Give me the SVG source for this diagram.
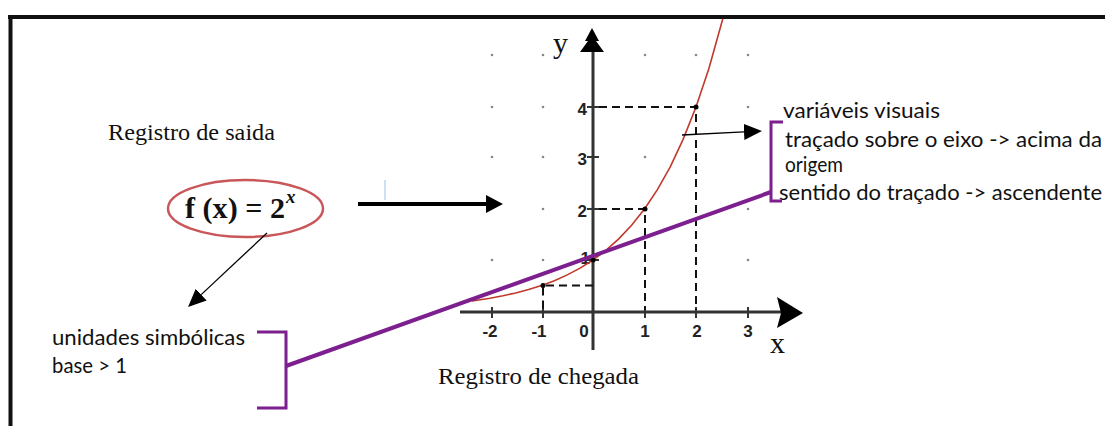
<svg xmlns="http://www.w3.org/2000/svg" width="1105" height="426" viewBox="0 0 1105 426">
<style>
.serif{font-family:"Liberation Serif","Times New Roman",serif;fill:#111}
.sans{font-family:Lato,"Open Sans",sans-serif;fill:#111;font-size:21.5px}
.num{font-family:"Liberation Sans",Arial,sans-serif;font-weight:bold;font-size:17px;fill:#222}
.axis{stroke:#333;stroke-width:3;fill:none}
.tick{stroke:#333;stroke-width:2}
.dash{stroke:#111;stroke-width:2;stroke-dasharray:8 5;fill:none}
.gdot{fill:#888}
.pdot{fill:#000}
.purple{stroke:#7d1f8e;fill:none}
.thin{stroke:#000;stroke-width:1.3;fill:none}
</style>
<defs>
<marker id="ah" markerUnits="userSpaceOnUse" markerWidth="18" markerHeight="16" refX="0" refY="8" orient="auto"><path d="M0,0 L18,8 L0,16 z" fill="#000"/></marker>
<marker id="ahb" markerUnits="userSpaceOnUse" markerWidth="17" markerHeight="18" refX="0" refY="9" orient="auto"><path d="M0,0 L17,9 L0,18 z" fill="#000"/></marker>
</defs>
<rect width="1105" height="426" fill="#fff"/>
<g id="frame">
<line x1="8" y1="17" x2="1105" y2="17" stroke="#111" stroke-width="4"/>
<line x1="10.5" y1="15" x2="10.5" y2="426" stroke="#111" stroke-width="4"/>
</g>
<g id="grid">
<circle class="gdot" cx="492" cy="55" r="1.3"/><circle class="gdot" cx="543" cy="55" r="1.3"/><circle class="gdot" cx="645" cy="55" r="1.3"/><circle class="gdot" cx="696" cy="55" r="1.3"/><circle class="gdot" cx="748" cy="55" r="1.3"/>
<circle class="gdot" cx="492" cy="107" r="1.3"/><circle class="gdot" cx="543" cy="107" r="1.3"/><circle class="gdot" cx="748" cy="107" r="1.3"/>
<circle class="gdot" cx="492" cy="157" r="1.3"/><circle class="gdot" cx="543" cy="157" r="1.3"/><circle class="gdot" cx="645" cy="157" r="1.3"/>
<circle class="gdot" cx="543" cy="209" r="1.3"/><circle class="gdot" cx="748" cy="209" r="1.3"/>
<circle class="gdot" cx="492" cy="260" r="1.3"/><circle class="gdot" cx="543" cy="260" r="1.3"/><circle class="gdot" cx="748" cy="260" r="1.3"/>
</g>
<g id="axes">
<line class="axis" x1="593" y1="50" x2="593" y2="350"/>
<line class="axis" x1="460" y1="312" x2="781" y2="312"/>
<path d="M592,28 L599,41 L596,41 L604,52 L580,52 L588,41 L585,41 Z" fill="#000"/>
<path d="M777,297 L803,313 L777,328 L781,313 Z" fill="#000"/>
<line class="tick" x1="492" y1="307" x2="492" y2="318"/><line class="tick" x1="543" y1="307" x2="543" y2="318"/><line class="tick" x1="645" y1="307" x2="645" y2="318"/><line class="tick" x1="696" y1="307" x2="696" y2="318"/><line class="tick" x1="748" y1="307" x2="748" y2="318"/>
<line class="tick" x1="587" y1="107" x2="599" y2="107"/><line class="tick" x1="587" y1="157" x2="599" y2="157"/><line class="tick" x1="587" y1="209" x2="599" y2="209"/><line class="tick" x1="587" y1="260" x2="599" y2="260"/>
<text class="num" x="587" y="115" text-anchor="end">4</text>
<text class="num" x="587" y="165" text-anchor="end">3</text>
<text class="num" x="587" y="217" text-anchor="end">2</text>
<text class="num" x="590" y="264" text-anchor="end">1</text>
<text class="num" x="490" y="337" text-anchor="middle">-2</text>
<text class="num" x="539" y="337" text-anchor="middle">-1</text>
<text class="num" x="584" y="337" text-anchor="middle">0</text>
<text class="num" x="645" y="337" text-anchor="middle">1</text>
<text class="num" x="697" y="337" text-anchor="middle">2</text>
<text class="num" x="748" y="337" text-anchor="middle">3</text>
<text class="serif" x="553" y="53" font-size="30">y</text>
<text class="serif" x="770" y="353" font-size="30">x</text>
</g>
<g id="dashes">
<path class="dash" d="M599,107 H696 V310"/>
<path class="dash" d="M599,209 H645 V310"/>
<path class="dash" d="M593,285.5 H543 V310"/>
</g>
<g id="curve">
<polyline fill="none" stroke="#c0392b" stroke-width="1.6" points="472,301 477.1,300.3 490,298.25 502.9,295.8 515.75,293 528.6,289.6 541.5,285.5 554.4,280.7 567.25,274.9 580.1,268.1 593,260 605.9,250.4 618.75,238.9 631.6,225.2 644.5,209 657.4,189.7 670.25,166.8 683.1,139.4 696,107 708.9,68.4 721.75,22.5 722.8,19"/>
<circle class="pdot" cx="543" cy="285.5" r="2.5"/>
<circle class="pdot" cx="593" cy="260" r="2.5"/>
<circle class="pdot" cx="645" cy="209" r="2.5"/>
<circle class="pdot" cx="696" cy="107" r="2.5"/>
</g>
<g id="registro-saida">
<text class="serif" x="108" y="140" font-size="23" textLength="167" lengthAdjust="spacingAndGlyphs">Registro de saida</text>
</g>
<g id="formula">
<ellipse cx="245.5" cy="208.5" rx="77.5" ry="28.5" fill="none" stroke="#c9575a" stroke-width="2.5"/>
<text class="serif" x="185" y="218" font-size="30" font-weight="bold" textLength="100" lengthAdjust="spacingAndGlyphs">f (x) = 2</text>
<text class="serif" x="286" y="203" font-size="19" font-weight="bold" font-style="italic">x</text>
</g>
<g id="cursor"><line x1="385" y1="180" x2="385" y2="200" stroke="#9dc3e6" stroke-width="1"/></g>
<g id="registro-chegada">
<text class="serif" x="438" y="384" font-size="23" textLength="201" lengthAdjust="spacingAndGlyphs">Registro de chegada</text>
</g>
<g id="simbolicas">
<text class="sans" x="52" y="345" textLength="193" lengthAdjust="spacingAndGlyphs">unidades simbólicas</text>
<text class="sans" x="52" y="373" textLength="75" lengthAdjust="spacingAndGlyphs">base &gt; 1</text>
<path class="purple" stroke-width="3" d="M257,332 H286 V408 H257"/>
</g>
<g id="visuais">
<text class="sans" x="783" y="118" textLength="157" lengthAdjust="spacingAndGlyphs">variáveis visuais</text>
<text class="sans" x="785" y="147" textLength="317" lengthAdjust="spacingAndGlyphs">traçado sobre o eixo  -&gt; acima da</text>
<text class="sans" x="785" y="172" textLength="58" lengthAdjust="spacingAndGlyphs">origem</text>
<text class="sans" x="779" y="200" textLength="323" lengthAdjust="spacingAndGlyphs">sentido do traçado -&gt; ascendente</text>
<path class="purple" stroke-width="3" d="M783,122 H771 V201 H782"/>
</g>
<g id="connectors">
<line class="purple" stroke-width="4" x1="286" y1="366" x2="771" y2="192"/>
<line stroke="#000" stroke-width="4" x1="358" y1="204" x2="486" y2="204" marker-end="url(#ahb)"/>
<line class="thin" x1="267" y1="233" x2="201.2" y2="294.6" marker-end="url(#ah)"/>
<line class="thin" x1="682" y1="135" x2="744" y2="131.9" marker-end="url(#ah)"/>
</g>
</svg>
